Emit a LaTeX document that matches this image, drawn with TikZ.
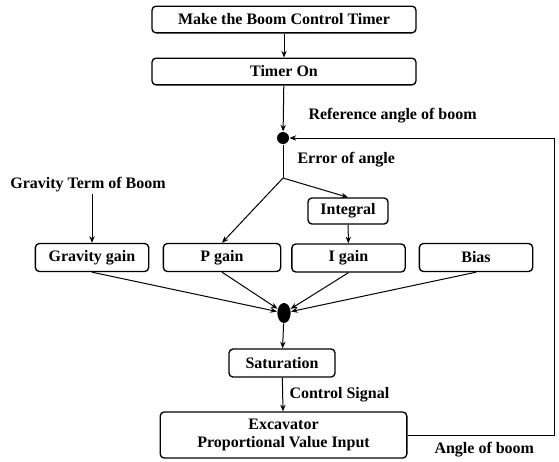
\documentclass[tikz,border=0pt]{standalone}
\usepackage{fontspec}
\setmainfont{Liberation Serif}
\usetikzlibrary{arrows.meta,shapes.geometric}

\tikzset{every picture/.style={line width=0.75pt}}
\tikzset{
  blk/.style={draw, rounded corners=3pt, line width=1pt, inner sep=0.75pt, font=\fontsize{12}{13}\selectfont\bfseries, align=center},
  lbl/.style={inner sep=0.75pt, font=\fontsize{12}{13}\selectfont\bfseries},
  arr/.style={-{Stealth[length=5pt,width=4pt]}}
}

\begin{document}
\begin{tikzpicture}[x=0.75pt,y=0.75pt,yscale=-1,xscale=1]
\useasboundingbox (0,0) rectangle (559,461);

%Shape: Rectangle [id:make]
\node [blk, minimum width=198pt, minimum height=20pt] (make) at (284,19.5) {Make the Boom Control Timer};
%Shape: Rectangle [id:timer]
\node [blk, minimum width=198pt, minimum height=20pt] (timer) at (284,71.5) {Timer On};
%Shape: Circle [id:sum1]
\node [circle, fill=black, minimum size=9pt, inner sep=0pt] (sum1) at (283,138) {};
\coordinate (split) at (283,178);

%Shape: Rectangle [id:integral]
\node [blk, minimum width=60pt, minimum height=19.5pt] (integral) at (348,211) {Integral};
%Shape: Rectangle [id:gains]
\node [blk, minimum width=85pt, minimum height=21pt] (grav) at (92,257.5) {Gravity gain};
\node [blk, minimum width=88pt, minimum height=21pt] (pgain) at (222,257.5) {P gain};
\node [blk, minimum width=85pt, minimum height=21pt] (igain) at (348.5,258) {I gain};
\node [blk, minimum width=85pt, minimum height=21pt] (bias) at (476,257.5) {Bias};
%Shape: Ellipse [id:sum2]
\node [ellipse, fill=black, minimum width=10pt, minimum height=15pt, inner sep=0pt] (sum2) at (284,313) {};
%Shape: Rectangle [id:sat]
\node [blk, minimum width=79.5pt, minimum height=21pt] (sat) at (282,363) {Saturation};
%Shape: Rectangle [id:exc]
\node [blk, minimum width=185pt, minimum height=34.5pt] (exc) at (283.5,435) {Excavator\\ Proportional Value Input};
\coordinate (fbr) at (554,435);
\coordinate (fbt) at (554,138);

% Text Node
\node [lbl] (gterm) at (88,185) {Gravity Term of Boom};
% Text Node
\node [lbl, anchor=west] (refang) at (307,116) {Reference angle of boom};
% Text Node
\node [lbl, anchor=west] (errang) at (296,160) {Error of angle};
% Text Node
\node [lbl, anchor=west] (ctrl) at (288,395) {Control Signal};
% Text Node
\node [lbl, anchor=west] (angb) at (433,450) {Angle of boom};

%Straight Lines
\draw [arr] (make) -- (timer);
\draw [arr] (timer) -- (sum1);
\draw (sum1) -- (split);
\draw [arr] (split) -- (pgain.north);
\draw [arr] (split) -- (integral.north);
\draw [arr] (integral) -- (igain);
\draw [arr] (gterm.south -| grav.north) -- (grav.north);
\draw [arr] (grav.south) -- (sum2);
\draw [arr] (pgain.south) -- (sum2);
\draw [arr] (igain.south) -- (sum2);
\draw [arr] (bias.south) -- (sum2);
\draw [arr] (sum2) -- (sat);
\draw [arr] (sat) -- (exc);
\draw [arr] (exc.east) -- (fbr) -- (fbt) -- (sum1);

\end{tikzpicture}
\end{document}
